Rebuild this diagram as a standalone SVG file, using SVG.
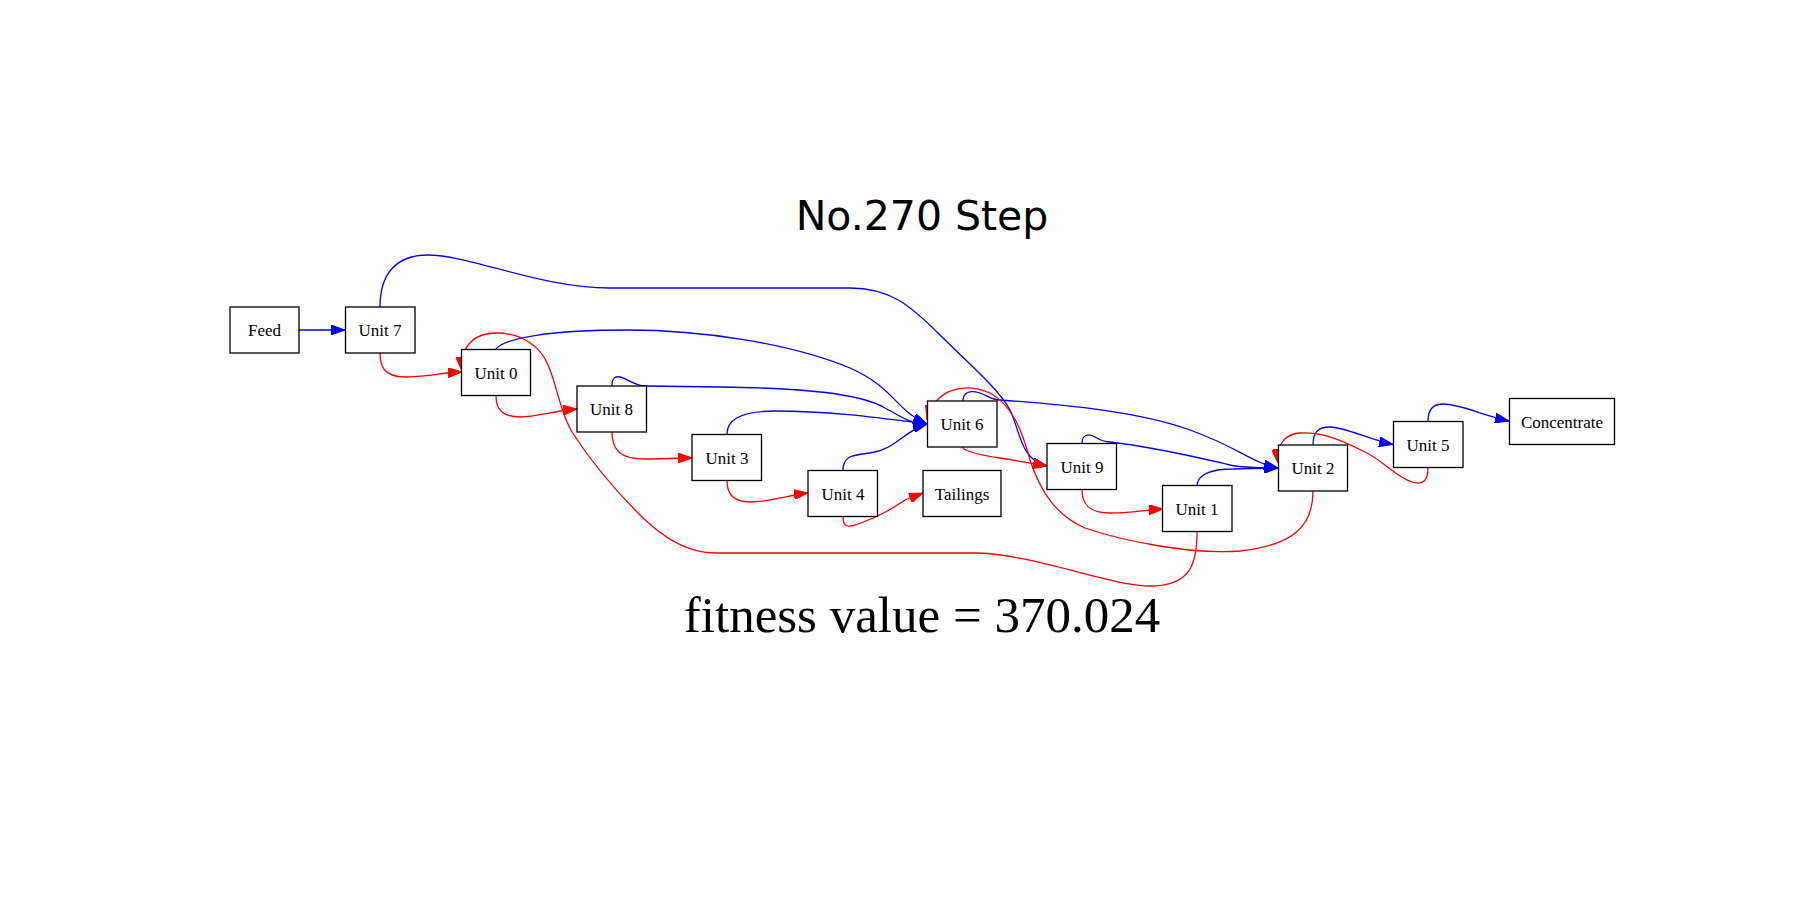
<svg xmlns="http://www.w3.org/2000/svg" width="1800" height="900" viewBox="0 0 1800 900">
<style>
.box{fill:#fff;stroke:#000;stroke-width:1.3}
.lbl{font-family:"Liberation Serif","Times New Roman",serif;font-size:17px;fill:#000;text-anchor:middle}
.b{fill:none;stroke:#0000ff;stroke-width:1.3;marker-end:url(#ab)}
.r{fill:none;stroke:#ff0000;stroke-width:1.3;marker-end:url(#ar)}
</style>
<defs>
<marker id="ab" markerUnits="userSpaceOnUse" viewBox="0 0 14 10" markerWidth="14" markerHeight="10" refX="14" refY="5" orient="auto"><path d="M0,0 L14,5 L0,10 z" fill="#0000ff" stroke="#0000ff" stroke-width="1"/></marker>
<marker id="ar" markerUnits="userSpaceOnUse" viewBox="0 0 14 10" markerWidth="14" markerHeight="10" refX="14" refY="5" orient="auto"><path d="M0,0 L14,5 L0,10 z" fill="#ff0000" stroke="#ff0000" stroke-width="1"/></marker>
</defs>
<rect width="1800" height="900" fill="#fff"/>
<text x="922" y="230" font-family="'DejaVu Sans',sans-serif" font-size="41" text-anchor="middle" fill="#000">No.270 Step</text>
<g id="connectors">
<path class="b" d="M299,330 L345,330"/>
<path class="b" d="M380,307 C380,275 395,255 428,255 C470,255 540,288 610,288 L850,288 C890,288 910,305 940,335 C965,360 1000,390 1010,410 C1020,430 1020,460 1047,466"/>
<path class="r" d="M380,353 C380,365 383,377 405,377 C425,377 440,373 462,372"/>
<path class="r" d="M496,396 C496,412 505,417 521,417 C535,417 555,411 577,409"/>
<path class="b" d="M496,349 C505,338 550,330 628,330 C700,330 790,343 850,368 C895,388 895,410 927,424"/>
<path class="b" d="M612,386 C612,378 615,376 620,377 C628,379 635,386 645,386 L720,387 C800,388 860,393 885,408 C900,416 910,424 927,424"/>
<path class="b" d="M727,434 C727,418 745,411 775,411 C830,411 880,418 927,424"/>
<path class="b" d="M843,470 C843,455 855,455 870,453 C895,450 905,430 927,424"/>
<path class="r" d="M612,432 C612,450 620,459 645,459 C660,459 675,458 692,458"/>
<path class="r" d="M727,481 C727,495 735,502 750,502 C770,502 790,495 808,493"/>
<path class="r" d="M843,517 C843,527 848,528 858,524 C880,516 890,510 905,500 L923,493"/>
<path class="r" d="M962,447 C965,452 980,455 1000,458 C1020,461 1035,464 1047,466"/>
<path class="b" d="M963,401 C963,392 970,390 980,393 C988,396 992,400 1000,400 C1070,405 1140,412 1190,430 C1240,448 1250,462 1278,468"/>
<path class="b" d="M1082,443 C1082,435 1088,433 1095,437 C1100,440 1105,442 1110,442 C1160,448 1200,458 1230,465 C1245,468 1260,468 1278,468"/>
<path class="r" d="M1082,490 C1082,505 1090,513 1110,513 C1130,513 1145,510 1163,509"/>
<path class="b" d="M1197,486 C1197,475 1210,469 1233,469 L1278,468"/>
<path class="b" d="M1313,445 C1313,432 1318,427 1330,427 C1345,427 1370,440 1393,444.5"/>
<path class="b" d="M1428,421 C1428,410 1432,404 1443,404 C1460,404 1485,416 1509,421"/>
<path class="r" d="M1428,468 C1428,482 1422,485 1412,482 C1395,476 1385,462 1365,452 C1345,442 1325,432 1300,433 C1285,434 1276,445 1278,463"/>
<path class="r" d="M1313,491 C1313,525 1295,545 1240,551 C1190,555 1120,540 1085,528 C1055,515 1040,490 1030,460 C1022,430 1012,405 990,393 C965,382 935,388 927,420"/>
<path class="r" d="M1197,532 C1197,565 1190,586 1150,586 C1110,586 1030,553 975,553 L715,553 C690,553 665,540 640,515 C615,490 590,460 572,432 C560,412 557,385 548,365 C540,345 520,333 497,333 C475,333 460,345 462,371"/>
</g>
<g id="Feed"><rect class="box" x="230" y="307" width="69" height="46"/><text class="lbl" x="264.5" y="336">Feed</text></g>
<g id="Unit7"><rect class="box" x="345.5" y="307" width="69.5" height="46"/><text class="lbl" x="380" y="336">Unit 7</text></g>
<g id="Unit0"><rect class="box" x="461.5" y="349.5" width="69" height="46"/><text class="lbl" x="496" y="378.5">Unit 0</text></g>
<g id="Unit8"><rect class="box" x="577" y="386" width="69.5" height="46"/><text class="lbl" x="611.5" y="415">Unit 8</text></g>
<g id="Unit3"><rect class="box" x="692" y="434.5" width="69.5" height="46"/><text class="lbl" x="727" y="463.5">Unit 3</text></g>
<g id="Unit4"><rect class="box" x="808" y="470.5" width="69.5" height="46"/><text class="lbl" x="843" y="499.5">Unit 4</text></g>
<g id="Tailings"><rect class="box" x="923" y="470.5" width="78" height="46"/><text class="lbl" x="962" y="499.5">Tailings</text></g>
<g id="Unit6"><rect class="box" x="927.5" y="401" width="69.5" height="46"/><text class="lbl" x="962" y="430">Unit 6</text></g>
<g id="Unit9"><rect class="box" x="1047" y="443.5" width="69.5" height="46"/><text class="lbl" x="1082" y="472.5">Unit 9</text></g>
<g id="Unit1"><rect class="box" x="1162.5" y="485.5" width="69.5" height="46"/><text class="lbl" x="1197" y="514.5">Unit 1</text></g>
<g id="Unit2"><rect class="box" x="1278.5" y="445" width="69" height="46"/><text class="lbl" x="1313" y="474">Unit 2</text></g>
<g id="Unit5"><rect class="box" x="1393.5" y="421.5" width="69.5" height="46"/><text class="lbl" x="1428" y="450.5">Unit 5</text></g>
<g id="Concentrate"><rect class="box" x="1509.5" y="398.5" width="105" height="46"/><text class="lbl" x="1562" y="427.5">Concentrate</text></g>
<text x="922" y="632" font-family="'Liberation Serif','Times New Roman',serif" font-size="51" text-anchor="middle" fill="#000">fitness value = 370.024</text>
</svg>
